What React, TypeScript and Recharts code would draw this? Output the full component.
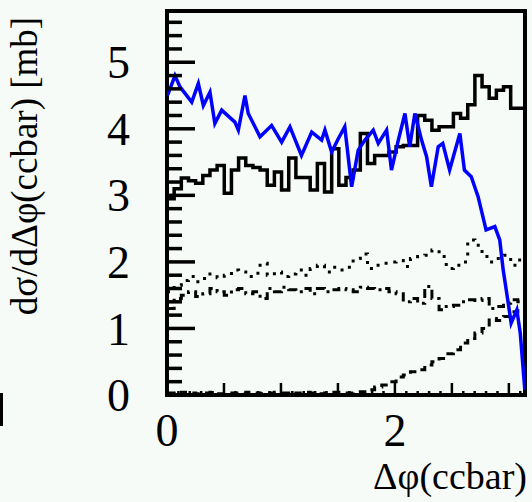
import { ComposedChart, Line, XAxis, YAxis, ReferenceArea } from "recharts";

// 50 bins over 0..pi
const solidHist = [
  2.95, 3.1, 3.26, 3.22, 3.18, 3.3, 3.38, 3.45, 3.03, 3.38,
  3.56, 3.45, 3.42, 3.38, 3.15, 3.35, 3.08, 3.56, 3.27, 3.27,
  3.08, 3.48, 3.05, 3.7, 3.15, 3.27, 3.38, 3.93, 3.48, 3.6,
  3.6, 3.65, 3.73, 3.75, 3.75, 4.2, 4.13, 3.98, 4.03, 4.03,
  4.23, 4.16, 4.36, 4.8, 4.63, 4.46, 4.58, 4.63, 4.31, 4.31,
];
const dottedHist = [
  1.55, 1.65, 1.72, 1.78, 1.7, 1.75, 1.82, 1.76, 1.8, 1.88,
  1.85, 1.78, 1.83, 1.98, 1.8, 1.85, 1.78, 1.82, 1.88, 1.8,
  1.9, 1.95, 1.85, 1.92, 1.88, 1.92, 2.05, 2.12, 1.9, 1.95,
  1.98, 2.0, 2.02, 1.93, 2.05, 2.08, 2.1, 2.18, 2.08, 1.9,
  1.95, 2.0, 2.33, 2.25, 2.08, 2.0, 2.05, 2.1, 1.95, 2.03,
];
const dashDotHist = [
  1.3, 1.45, 1.5, 1.55, 1.48, 1.52, 1.6, 1.55, 1.5, 1.58,
  1.6, 1.52, 1.55, 1.45, 1.6, 1.55, 1.62, 1.58, 1.55, 1.6,
  1.52, 1.6, 1.55, 1.58, 1.6, 1.58, 1.55, 1.62, 1.6, 1.58,
  1.6, 1.55, 1.52, 1.4, 1.45, 1.38, 1.63, 1.45, 1.28, 1.33,
  1.35, 1.4, 1.43, 1.42, 1.45, 1.3, 1.33, 1.38, 1.43, 1.4,
];
const dashedHist = [
  0.03, 0.02, 0.04, 0.03, 0.02, 0.03, 0.04, 0.02, 0.03, 0.03,
  0.02, 0.04, 0.03, 0.02, 0.03, 0.04, 0.03, 0.02, 0.03, 0.04,
  0.03, 0.02, 0.03, 0.04, 0.03, 0.03, 0.04, 0.05, 0.08, 0.12,
  0.15, 0.2, 0.27, 0.3, 0.35, 0.38, 0.45, 0.5, 0.55, 0.62,
  0.68, 0.78, 0.85, 0.93, 1.0, 1.15, 1.12, 1.18, 1.25, 1.3,
];

const blueX = [
  0.0, 0.011, 0.07, 0.114, 0.217, 0.275, 0.319, 0.377, 0.42, 0.48,
  0.596, 0.626, 0.684, 0.713, 0.772, 0.816, 0.918, 1.006, 1.079, 1.18,
  1.27, 1.357, 1.386, 1.445, 1.503, 1.56, 1.62, 1.678, 1.737, 1.81,
  1.854, 1.927, 1.97, 2.03, 2.088, 2.13, 2.175, 2.234, 2.278, 2.32,
  2.38, 2.42, 2.48, 2.57, 2.61, 2.67, 2.73, 2.8, 2.877, 2.92,
  2.95, 2.99, 3.02, 3.07, 3.1, 3.14,
];
const blueY = [
  4.5, 4.53, 4.8, 4.63, 4.4, 4.68, 4.35, 4.55, 4.08, 4.28,
  4.1, 3.98, 4.5, 4.23, 4.03, 3.88, 4.05, 3.8, 4.03, 3.6,
  3.95, 3.83, 3.98, 3.65, 3.85, 4.03, 3.13, 3.68, 3.83, 3.98,
  3.78, 3.98, 3.38, 3.83, 4.23, 3.73, 4.23, 3.83, 3.58, 3.13,
  3.73, 3.78, 3.38, 3.93, 3.38, 3.28, 2.98, 2.48, 2.53, 2.33,
  1.88, 1.43, 1.08, 1.28, 0.93, 0.08,
];

const yLabels = [0, 1, 2, 3, 4, 5];
const xLabels = [0, 2];
const Y_MAX = 5.77;

const nBins = solidHist.length;
const histRows = solidHist.map((v, i) => ({
  x: (i * Math.PI) / nBins,
  solid: v,
  dotted: dottedHist[i],
  dashDot: dashDotHist[i],
  dashed: dashedHist[i],
}));
histRows.push({ ...histRows[nBins - 1], x: Math.PI });

const blueRows = blueX.map((x, i) => ({ x, blue: blueY[i] }));

const yTicks: number[] = [];
for (let i = 0; i <= 28; i++) yTicks.push(Math.round(i * 2) / 10);
const xTicks: number[] = [];
for (let i = 0; i <= 31; i++) xTicks.push(i / 10);

const FONT = "'Liberation Serif', 'Times New Roman', serif";

const YTick = (props: any) => {
  const { x, y, payload } = props;
  const v = payload.value;
  const major = Math.abs(v - Math.round(v)) < 1e-6;
  return (
    <g>
      <line x1={x} x2={x + (major ? 28 : 15)} y1={y} y2={y} stroke="#000" strokeWidth={3.5} />
      {major && yLabels.includes(Math.round(v)) && (
        <text x={x - 37} y={y} dy="0.35em" textAnchor="end" fontSize={46} fontFamily={FONT} fill="#000">
          {Math.round(v)}
        </text>
      )}
    </g>
  );
};

const XTick = (props: any) => {
  const { x, y, payload } = props;
  const v = payload.value;
  const half = Math.abs(v * 2 - Math.round(v * 2)) < 1e-6;
  const labelled = xLabels.some((l) => Math.abs(l - v) < 1e-6);
  return (
    <g>
      <line x1={x} x2={x} y1={y} y2={y - (half ? 12 : 4)} stroke="#000" strokeWidth={2.5} />
      {labelled && (
        <text x={x} y={y + 35} dy="0.35em" textAnchor="middle" fontSize={46} fontFamily={FONT} fill="#000">
          {Math.round(v)}
        </text>
      )}
    </g>
  );
};

export default function App() {
  return (
    <div style={{ position: "relative", width: 532, height: 502, background: "#f7fbf8" }}>
      <style>{`body{margin:0;}`}</style>
      <ComposedChart
        width={532}
        height={502}
        data={histRows}
        margin={{ top: 11, right: 7, left: 0, bottom: 0 }}
      >
        <XAxis
          type="number"
          dataKey="x"
          domain={[0, Math.PI]}
          ticks={xTicks}
          interval={0}
          allowDataOverflow
          axisLine={false}
          tickLine={false}
          tickSize={0}
          tickMargin={0}
          height={107}
          tick={<XTick />}
        />
        <YAxis
          type="number"
          domain={[0, Y_MAX]}
          ticks={yTicks}
          interval={0}
          allowDataOverflow
          axisLine={false}
          tickLine={false}
          tickSize={0}
          tickMargin={0}
          width={167}
          tick={<YTick />}
        />
        <Line type="stepAfter" dataKey="dotted" stroke="#000" strokeWidth={3} strokeDasharray="3 7" dot={false} activeDot={false} isAnimationActive={false} />
        <Line type="stepAfter" dataKey="dashDot" stroke="#000" strokeWidth={3} strokeDasharray="9 5 3 5" dot={false} activeDot={false} isAnimationActive={false} />
        <Line type="stepAfter" dataKey="dashed" stroke="#000" strokeWidth={3} strokeDasharray="8 6" dot={false} activeDot={false} isAnimationActive={false} />
        <Line type="stepAfter" dataKey="solid" stroke="#000" strokeWidth={3.5} dot={false} activeDot={false} isAnimationActive={false} />
        <Line data={blueRows} type="linear" dataKey="blue" stroke="#0000ff" strokeWidth={3.5} dot={false} activeDot={false} isAnimationActive={false} />
        <ReferenceArea x1={0} x2={Math.PI} y1={0} y2={Y_MAX} fill="none" stroke="#000" strokeWidth={4} />
      </ComposedChart>
      <svg width={532} height={502} style={{ position: "absolute", left: 0, top: 0, pointerEvents: "none" }}>
        <text
          transform="translate(37,166) rotate(-90)"
          textAnchor="middle"
          fontSize={37}
          fontFamily={FONT}
          fill="#000"
        >
          dσ/dΔφ(ccbar) [mb]
        </text>
        <text x={527} y={489} textAnchor="end" fontSize={38} fontFamily={FONT} fill="#000">
          Δφ(ccbar)
        </text>
        <rect x={0} y={393} width={3} height={33} fill="#000" />
      </svg>
    </div>
  );
}
